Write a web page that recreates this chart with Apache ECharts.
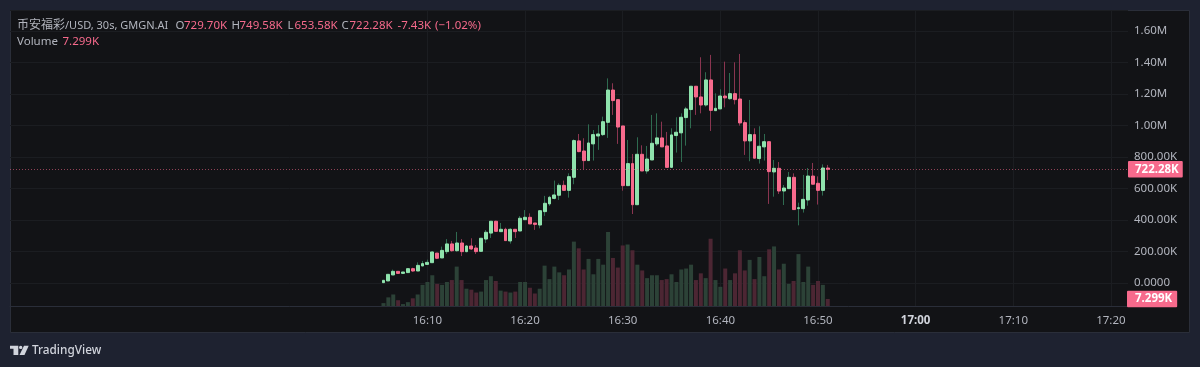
<!DOCTYPE html>
<html>
<head>
<meta charset="utf-8">
<style>
  html, body { margin: 0; padding: 0; background: #1e2230; }
  #main { width: 1200px; height: 367px; }
</style>
<script src="https://cdn.jsdelivr.net/npm/echarts@6/dist/echarts.min.js"></script>
</head>
<body>
<div id="main"></div>
<script>
// K线: [open, close, low, high],单位 K
const candles = [
  [2,17,2,17],[13,55,13,55],[51,74,51,85],[74,61,61,74],[61,70,60,70],[66,91,66,91],[91,76,72,97],[76,112,76,131],
  [108,123,108,140],[118,131,118,148],[129,197,129,201],[190,157,152,190],[159,207,159,231],[199,248,184,279],
  [248,205,199,267],[205,254,199,324],[254,199,171,279],[199,235,195,241],[235,216,210,284],[222,199,184,241],
  [201,284,201,284],[279,322,254,336],[317,392,286,392],[392,328,328,395],[326,341,326,381],[341,269,269,351],
  [267,341,250,347],[341,326,286,341],[330,411,330,425],[402,417,402,463],[417,375,375,442],[381,372,337,381],
  [368,459,347,459],[453,506,426,553],[502,544,489,553],[537,559,531,650],[557,620,527,633],[620,588,588,650],
  [588,675,542,696],[671,904,627,912],[902,834,830,946],[838,777,722,919],[777,889,777,1007],[883,942,777,971],
  [933,946,845,1003],[942,1024,933,1056],[1020,1225,921,1299],[1225,1158,1067,1268],[1164,990,883,1164],
  [997,618,586,997],[618,758,618,908],[758,497,438,819],[497,817,497,925],[817,711,711,874],[711,787,694,870],
  [781,887,781,1067],[883,921,870,1077],[921,864,864,1024],[870,734,734,959],[734,940,734,982],[936,957,828,1052],
  [953,1052,768,1077],[1050,1105,872,1118],[1101,1249,982,1249],[1249,1181,1067,1249],[1181,1130,1077,1433],
  [1130,1289,1120,1338],[1289,1096,965,1448],[1094,1109,1094,1204],[1105,1187,1105,1230],[1187,1175,1115,1405],
  [1170,1202,1164,1333],[1202,1164,1134,1401],[1168,1016,999,1454],[1018,902,813,1033],[902,942,773,1162],
  [942,792,792,982],[790,868,758,995],[864,897,777,946],[897,707,502,897],[705,728,548,781],[728,584,565,768],
  [584,603,495,622],[599,671,599,705],[671,466,466,696],[472,478,366,510],[472,531,447,686],[527,679,491,730],
  [679,627,627,762],[633,588,498,677],[588,730,555,753],[729.70,722.28,653.58,749.58]
];

// 成交量,单位 K
const volumes = [
  3,9,12,6,2,4,8,12,22,25,32,23,22,25,27,41,27,18,17,14,15,27,31,26,16,15,14,15,25,25,19,13,18,42,28,41,35,32,38,67,
  60,38,49,33,49,43,77,50,40,63,64,58,43,37,29,32,32,27,28,33,25,38,39,43,27,34,29,70,27,20,39,27,34,58,37,48,28,51,
  31,59,62,38,44,23,26,54,25,41,22,26,22,7.299
];

const timeTicks = ['16:10', '16:20', '16:30', '16:40', '16:50', '17:00', '17:10', '17:20'];
const priceTicks = [0, 200, 400, 600, 800, 1000, 1200, 1400, 1600];
const priceTickLabels = ['0.0000', '200.00K', '400.00K', '600.00K', '800.00K', '1.00M', '1.20M', '1.40M', '1.60M'];

const lastPrice = 722.28;
const lastVolume = 7.299;
const firstSlot = 76; // 第一根K线所在的时间格

// 30 秒一格的时间轴
const timeSlots = [];
for (let i = 0; i < 229; i++) {
  const sec = 15 * 3600 + 27 * 60 + 30 + i * 30;
  const h = Math.floor(sec / 3600);
  const m = Math.floor(sec / 60) % 60;
  const name = h + ':' + String(m).padStart(2, '0');
  timeSlots.push(sec % 60 === 0 ? name : name + ':30');
}

const UP = '#8fe3ad';
const DOWN = '#f76a8c';
const UP_WICK = '#2f6b50';
const DOWN_WICK = '#8a3550';
const GRID = '#1b1d21';
const TEXT = '#b2b5be';
const FONT = '"Noto Sans", "Noto Sans CJK SC", sans-serif';

// 影线和实体分两层画,实体那层只用开收价
const wickData = candles.map((c, i) => [firstSlot + i, c[0], c[1], c[2], c[3]]);
const bodyData = candles.map((c, i) => [firstSlot + i, c[0], c[1], Math.min(c[0], c[1]), Math.max(c[0], c[1])]);
const volumeData = volumes.map((v, i) => ({
  value: [firstSlot + i, v],
  itemStyle: { color: candles[i][1] < candles[i][0] ? '#4c2633' : '#2c4237' }
}));

// 左上角图例
const legendParts = [
  { x: 17, y: 25.5, text: '币安福彩', fill: TEXT, size: 12 },
  { x: 65, y: 25.5, text: '/USD, 30s, GMGN.AI', fill: TEXT, size: 11 },
  { x: 175.5, y: 25.5, text: 'O', fill: TEXT, size: 11.5 },
  { x: 184, y: 25.5, text: '729.70K', fill: DOWN, size: 11.5 },
  { x: 231.5, y: 25.5, text: 'H', fill: TEXT, size: 11.5 },
  { x: 239.5, y: 25.5, text: '749.58K', fill: DOWN, size: 11.5 },
  { x: 287.5, y: 25.5, text: 'L', fill: TEXT, size: 11.5 },
  { x: 294.5, y: 25.5, text: '653.58K', fill: DOWN, size: 11.5 },
  { x: 341.5, y: 25.5, text: 'C', fill: TEXT, size: 11.5 },
  { x: 349.5, y: 25.5, text: '722.28K', fill: DOWN, size: 11.5 },
  { x: 397.5, y: 25.5, text: '-7.43K', fill: DOWN, size: 11.5 },
  { x: 435, y: 25.5, text: '(−1.02%)', fill: DOWN, size: 11.5 },
  { x: 17, y: 42, text: 'Volume', fill: TEXT, size: 11.5 },
  { x: 62.5, y: 42, text: '7.299K', fill: DOWN, size: 11.5 }
];

const chart = echarts.init(document.getElementById('main'));
chart.setOption({
  animation: false,
  backgroundColor: '#1e2230',
  grid: { left: 10, right: 72, top: 10, height: 296, containLabel: false },
  xAxis: {
    type: 'category',
    data: timeSlots,
    boundaryGap: true,
    axisLine: { show: true, onZero: false, lineStyle: { color: '#2a2e39' } },
    axisTick: { show: false, alignWithLabel: true, interval: (i, name) => timeTicks.includes(name) },
    axisLabel: {
      interval: (i, name) => timeTicks.includes(name),
      margin: 9,
      color: TEXT,
      fontSize: 11.5,
      fontFamily: FONT,
      hideOverlap: false,
      formatter: v => (v === '17:00' ? '{b|' + v + '}' : v),
      rich: { b: { fontWeight: 'bold', color: '#d1d4dc', fontSize: 11.5, fontFamily: FONT } }
    },
    splitLine: {
      show: true,
      alignWithLabel: true,
      interval: (i, name) => timeTicks.includes(name),
      lineStyle: { color: GRID, width: 1 }
    }
  },
  yAxis: [
    {
      type: 'value',
      position: 'right',
      min: -146,
      max: 1733,
      splitNumber: 9,
      axisLine: { show: false },
      axisTick: { show: false },
      axisLabel: {
        margin: 6,
        align: 'left',
        padding: [4, 0, 0, 0],
        color: TEXT,
        fontSize: 11.5,
        fontFamily: FONT,
        showMinLabel: false,
        showMaxLabel: false,
        formatter: v => {
          const k = priceTicks.indexOf(v);
          return k >= 0 ? priceTickLabels[k] : '';
        }
      },
      splitLine: { show: true, lineStyle: { color: GRID, width: 1 } }
    },
    { type: 'value', min: 0, max: 308, show: false, splitLine: { show: false } }
  ],
  series: [
    {
      type: 'bar',
      name: 'Volume',
      yAxisIndex: 1,
      barWidth: 4,
      z: 2,
      data: volumeData,
      markLine: {
        silent: true,
        symbol: 'none',
        lineStyle: { color: 'rgba(0,0,0,0)' },
        label: {
          position: 'end',
          distance: -1,
          formatter: '7.299K',
          backgroundColor: DOWN,
          color: '#fff',
          fontSize: 11.5,
          fontWeight: 'bold',
          fontFamily: FONT,
          padding: [3, 5, 2, 8],
          borderRadius: 1
        },
        data: [{ yAxis: lastVolume }]
      }
    },
    {
      type: 'candlestick',
      name: 'wick',
      yAxisIndex: 0,
      barWidth: 1,
      z: 3,
      encode: { x: 0, y: [1, 2, 3, 4] },
      itemStyle: {
        color: UP_WICK,
        color0: DOWN_WICK,
        borderColor: UP_WICK,
        borderColor0: DOWN_WICK,
        borderWidth: 1
      },
      data: wickData,
      markLine: {
        silent: true,
        symbol: 'none',
        lineStyle: { color: 'rgba(247,106,140,0.55)', type: [1, 2], width: 1 },
        label: {
          position: 'end',
          distance: 0,
          formatter: '722.28K',
          backgroundColor: DOWN,
          color: '#fff',
          fontSize: 11.5,
          fontWeight: 'bold',
          fontFamily: FONT,
          padding: [3, 4, 2, 7],
          borderRadius: 1
        },
        data: [{ yAxis: lastPrice }]
      }
    },
    {
      type: 'candlestick',
      name: '币安福彩/USD',
      yAxisIndex: 0,
      barWidth: 3.4,
      z: 4,
      encode: { x: 0, y: [1, 2, 3, 4] },
      itemStyle: {
        color: UP,
        color0: DOWN,
        borderColor: UP,
        borderColor0: DOWN,
        borderWidth: 1
      },
      data: bodyData
    }
  ],
  graphic: [
    // 图表外框
    {
      type: 'rect',
      z: -1,
      silent: true,
      shape: { x: 10.5, y: 10.5, width: 1179, height: 322 },
      style: { fill: '#121316', stroke: '#2a2e39', lineWidth: 1 }
    },
    ...legendParts.map(p => ({
      type: 'text',
      silent: true,
      z: 10,
      x: p.x,
      y: p.y,
      style: { text: p.text, fill: p.fill, font: p.size + 'px ' + FONT, textVerticalAlign: 'middle' }
    })),
    // TradingView 标志
    { type: 'polygon', silent: true, shape: { points: [[10, 345.7], [18.3, 345.7], [18.3, 355], [13.5, 355], [13.5, 348.7], [10, 348.7]] }, style: { fill: '#d1d4dc' } },
    { type: 'circle', silent: true, shape: { cx: 20.7, cy: 347.4, r: 1.7 }, style: { fill: '#d1d4dc' } },
    { type: 'polygon', silent: true, shape: { points: [[24, 345.7], [28.7, 345.7], [24.5, 355], [19.5, 355]] }, style: { fill: '#d1d4dc' } },
    {
      type: 'text',
      silent: true,
      x: 32,
      y: 351,
      style: { text: 'TradingView', fill: '#d1d4dc', font: '500 11.8px ' + FONT, textVerticalAlign: 'middle' }
    }
  ]
});
</script>
</body>
</html>
